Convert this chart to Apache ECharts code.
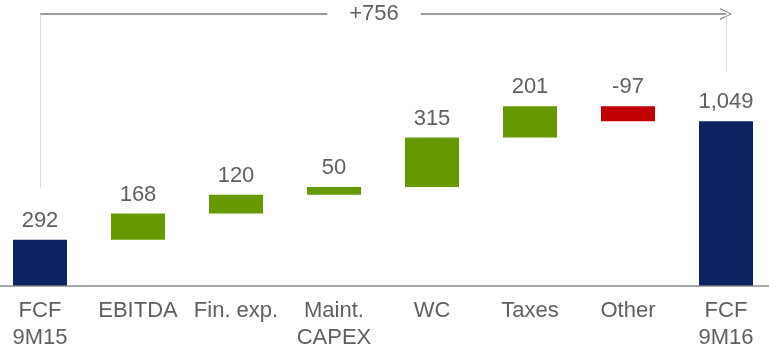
<!DOCTYPE html>
<html>
<head>
<meta charset="utf-8">
<script src="https://cdn.jsdelivr.net/npm/echarts@6/dist/echarts.min.js"></script>
<style>
html,body{margin:0;padding:0;background:#fff;}
#chart{width:769px;height:347px;}
</style>
</head>
<body>
<div id="chart"></div>
<script>
// ---- data ----
const categories = ['FCF\n9M15', 'EBITDA', 'Fin. exp.', 'Maint.\nCAPEX', 'WC', 'Taxes', 'Other', 'FCF\n9M16'];
const values = [292, 168, 120, 50, 315, 201, -97, 1049];
const kinds = ['total', 'delta', 'delta', 'delta', 'delta', 'delta', 'delta', 'total'];
// bracket annotation (as printed in the source) and its levels in data units
const bracketLabel = '+756';
const bracketLevel = 1735;
const leftTickFrom = 623;
const rightTickFrom = 1364;

const NAVY = '#0d2260', GREEN = '#669900', RED = '#c00000', TXT = '#606060';

// build waterfall base/height
const base = [], height = [], colors = [];
let run = 0;
values.forEach((v, i) => {
  if (kinds[i] === 'total') {
    base.push(0); height.push(v); colors.push(NAVY); run = v;
  } else if (v >= 0) {
    base.push(run); height.push(v); colors.push(GREEN); run += v;
  } else {
    run += v; base.push(run); height.push(-v); colors.push(RED);
  }
});
const fmt = v => (v < 0 ? '-' : '') + Math.abs(v).toLocaleString('en-US');

const chart = echarts.init(document.getElementById('chart'), null, {renderer: 'canvas'});
chart.setOption({
  animation: false,
  textStyle: {fontFamily: '"Liberation Sans", Arial, sans-serif'},
  grid: {left: -9, right: -6, top: 3.8, bottom: 61.5, containLabel: false, outerBoundsMode: 'none'},
  xAxis: {
    type: 'category',
    data: categories,
    axisLine: {lineStyle: {color: '#8a8a8a', width: 1.5}},
    axisTick: {show: false},
    axisLabel: {color: TXT, fontSize: 22, lineHeight: 27, margin: 12, interval: 0}
  },
  yAxis: {
    type: 'value', min: 0, max: 1800,
    show: false, splitLine: {show: false}
  },
  series: [
    {
      type: 'bar', stack: 'w', barWidth: 54,
      itemStyle: {color: 'transparent'},
      data: base,
      silent: true,
      markLine: {
        silent: true,
        animation: false,
        data: [
          [
            {coord: [0, bracketLevel], symbol: 'none', lineStyle: {color: '#7a7a7a', width: 1.5, type: 'solid'},
             label: {show: true, position: 'middle', distance: -12, offset: [-9, 0], formatter: bracketLabel, color: TXT, fontSize: 22,
                     lineHeight: 24, backgroundColor: '#fff', padding: [0, 22]}},
            {coord: [7, bracketLevel], symbol: 'path://M0,20 L10,0 L20,20 L18,20 L10,3 L2,20 Z', symbolSize: [12, 12], symbolOffset: [0, 0]}
          ],
          [
            {coord: [0, leftTickFrom], symbol: 'none', lineStyle: {color: '#dcdcdc', width: 1, type: 'solid'}, label: {show: false}},
            {coord: [0, bracketLevel], symbol: 'none'}
          ],
          [
            {coord: [7, rightTickFrom], symbol: 'none', lineStyle: {color: '#dcdcdc', width: 1, type: 'solid'}, label: {show: false}},
            {coord: [7, bracketLevel], symbol: 'none'}
          ]
        ]
      }
    },
    {
      type: 'bar', stack: 'w', barWidth: 54,
      data: height.map((h, i) => ({value: h, itemStyle: {color: colors[i]}})),
      label: {
        show: true, position: 'top', distance: 8,
        color: TXT, fontSize: 22,
        formatter: p => fmt(values[p.dataIndex])
      }
    }
  ]
});
</script>
</body>
</html>
